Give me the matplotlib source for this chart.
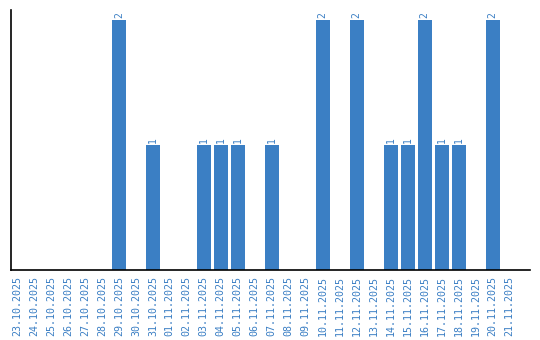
import matplotlib
matplotlib.use("Agg")
import matplotlib.pyplot as plt
import numpy as np

# --- Data ---
dates = ["23.10.2025", "24.10.2025", "25.10.2025", "26.10.2025", "27.10.2025",
         "28.10.2025", "29.10.2025", "30.10.2025", "31.10.2025", "01.11.2025",
         "02.11.2025", "03.11.2025", "04.11.2025", "05.11.2025", "06.11.2025",
         "07.11.2025", "08.11.2025", "09.11.2025", "10.11.2025", "11.11.2025",
         "12.11.2025", "13.11.2025", "14.11.2025", "15.11.2025", "16.11.2025",
         "17.11.2025", "18.11.2025", "19.11.2025", "20.11.2025", "21.11.2025"]
counts = [0, 0, 0, 0, 0, 0, 2, 0, 1, 0,
          0, 1, 1, 1, 0, 1, 0, 0, 2, 0,
          2, 0, 1, 1, 2, 1, 1, 0, 2, 0]

BLUE = "#3b7fc4"

fig = plt.figure(figsize=(5.4, 3.4), dpi=100)
ax = fig.add_axes([10.5 / 540, 70 / 340, 519.5 / 540, 260 / 340])

x = np.arange(len(dates))
bars = ax.bar(x, counts, width=0.82, color=BLUE)

for xi, c in zip(x, counts):
    if c > 0:
        ax.annotate(str(c), (xi, c), xytext=(0, 1.5), textcoords="offset points",
                    ha="center", va="bottom", rotation=90, color=BLUE,
                    fontsize=7, family="DejaVu Sans Mono")

ax.set_xlim(-0.38, 30.2)
ax.set_ylim(0, 2.08)
ax.set_xticks(x)
ax.set_xticklabels(dates, rotation=90, color=BLUE, fontsize=7.2,
                   family="DejaVu Sans Mono")
ax.set_yticks([])
ax.tick_params(axis="x", length=0, pad=4)
for side in ("top", "right"):
    ax.spines[side].set_visible(False)
for side in ("left", "bottom"):
    ax.spines[side].set_color("black")
    ax.spines[side].set_linewidth(1.2)

fig.savefig("out.png", dpi=100)
